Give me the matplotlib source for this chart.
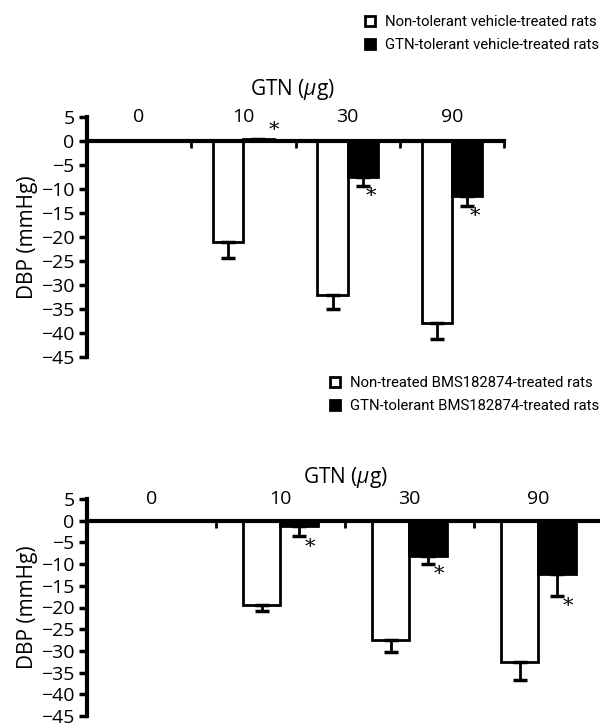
import matplotlib
matplotlib.use("Agg")
import matplotlib.pyplot as plt
from matplotlib.lines import Line2D
import numpy as np

plt.rcParams['font.family'] = ['Open Sans', 'DejaVu Sans']
plt.rcParams['mathtext.fontset'] = 'custom'
plt.rcParams['mathtext.it'] = 'Open Sans:italic'
plt.rcParams['mathtext.rm'] = 'Open Sans'

doses = ["0", "10", "30", "90"]
yticks = [5, 0, -5, -10, -15, -20, -25, -30, -35, -40, -45]

# Panel A: vehicle-treated rats
a_nontol = [0, -21.0, -32.0, -38.0]
a_nontol_err = [0, 3.4, 3.0, 3.2]
a_tol = [0, 0.5, -7.4, -11.5]
a_tol_err = [0, 0.3, 2.0, 2.0]
a_sig = [False, True, True, True]
a_labels = ["Non-tolerant vehicle-treated rats", "GTN-tolerant vehicle-treated rats"]

# Panel B: BMS182874-treated rats
b_nontol = [0, -19.5, -27.5, -32.6]
b_nontol_err = [0, 1.2, 2.7, 4.0]
b_tol = [0, -1.3, -8.1, -12.2]
b_tol_err = [0, 2.3, 1.9, 5.1]
b_sig = [False, True, True, True]
b_labels = ["Non-treated BMS182874-treated rats", "GTN-tolerant BMS182874-treated rats"]

W, H = 600, 727
fig = plt.figure(figsize=(W / 100, H / 100), dpi=100)

FS = 14
LABFS = 15
LFS = 10.7


def panel(rect, nontol, nontol_err, tol, tol_err, sig, star_dy):
    ax = fig.add_axes(rect)
    n = len(doses)
    x = np.arange(n) + 0.5
    bw = 0.29
    ax.bar(x, nontol, width=-bw, align='edge', color='white', edgecolor='black',
           linewidth=2, zorder=2)
    ax.bar(x, tol, width=bw, align='edge', color='black', edgecolor='black',
           linewidth=2, zorder=2)
    for xi, v, e in [(x - bw / 2, nontol, nontol_err), (x + bw / 2, tol, tol_err)]:
        for k in range(n):
            if e[k] > 0:
                ax.errorbar([xi[k]], [v[k]], yerr=[[e[k]], [0]], fmt='none',
                            ecolor='black', elinewidth=2, capsize=5, capthick=2.5, zorder=3)
    for k in range(n):
        if sig[k]:
            if tol[k] > 0:
                ys = tol[k] + 1.7
                xs = x[k] + bw
            else:
                ys = tol[k] - tol_err[k] - star_dy
                xs = x[k] + bw / 2 + 0.08
            ax.text(xs, ys, "*", family='DejaVu Serif', fontsize=15,
                    ha='center', va='center', zorder=4)
    ax.set_xlim(0, n)
    ax.set_ylim(-45, 5)
    ax.set_yticks(yticks)
    ax.set_yticklabels([str(t).replace('-', '\u2212') for t in yticks], fontsize=FS)
    ax.spines['top'].set_visible(False)
    ax.spines['right'].set_visible(False)
    ax.spines['left'].set_linewidth(3)
    ax.spines['bottom'].set_position(('data', 0))
    ax.spines['bottom'].set_linewidth(3)
    ax.spines['bottom'].set_zorder(5)
    ax.set_xticks(np.arange(1, n + 1))
    ax.set_xticklabels([])
    ax.tick_params(axis='x', direction='out', length=5, width=2)
    ax.tick_params(axis='y', direction='out', length=6, width=2.5, pad=3)
    for k in range(n):
        ax.text(x[k], 5, doses[k], ha='center', va='center', fontsize=FS)
    ax.set_ylabel("DBP (mmHg)", fontsize=LABFS, labelpad=2)
    ax.patch.set_alpha(0)
    return ax


def px_rect(l, r, t, b):
    return [l / W, 1 - b / H, (r - l) / W, (b - t) / H]


axA = panel(px_rect(87, 504, 117, 357), a_nontol, a_nontol_err, a_tol, a_tol_err, a_sig, 2.2)
fig.text(292.5 / W, 1 - 89 / H, r"GTN ($\mu$g)", ha='center', va='center', fontsize=LABFS)
axB = panel(px_rect(87, 603, 499, 716), b_nontol, b_nontol_err, b_tol, b_tol_err, b_sig, 2.5)
fig.text(345 / W, 1 - 477 / H, r"GTN ($\mu$g)", ha='center', va='center', fontsize=LABFS)


def legend(labels, x, y):
    handles = [Line2D([], [], marker='s', markersize=7.5, markerfacecolor='white',
                      markeredgecolor='black', markeredgewidth=2, linestyle='none'),
               Line2D([], [], marker='s', markersize=7.5, markerfacecolor='black',
                      markeredgecolor='black', markeredgewidth=2, linestyle='none')]
    lg = fig.legend(handles, labels, loc='upper right', bbox_to_anchor=(x / W, 1 - y / H),
                    frameon=False, prop={'family': 'Roboto', 'size': LFS},
                    handlelength=0.8, handletextpad=0.6,
                    labelspacing=0.62, borderpad=0, borderaxespad=0)
    return lg


legend(a_labels, 599, 15)
legend(b_labels, 599, 376)

fig.savefig("out.png", dpi=100)
